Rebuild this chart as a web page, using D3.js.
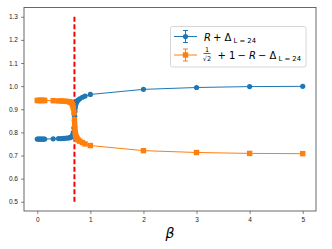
<!DOCTYPE html>
<html>
<head>
<meta charset="utf-8">
<script src="https://cdn.jsdelivr.net/npm/d3@7"></script>
<style>
  body { margin: 0; background: #fff; }
  svg { font-family: "DejaVu Sans", sans-serif; }
</style>
</head>
<body>
<svg id="chart" width="332" height="249"></svg>
<script>
// beta values (x)
const betas = [0, 0.02, 0.04, 0.06, 0.08, 0.1, 0.12, 0.14, 0.3, 0.4, 0.45, 0.5, 0.55, 0.6,
  0.62, 0.64, 0.66, 0.67, 0.68, 0.69, 0.7, 0.705, 0.71, 0.715, 0.72, 0.73, 0.74, 0.75,
  0.77, 0.8, 0.85, 0.9, 1, 2, 3, 4, 5];
// R + Delta
const blueVals = [0.771, 0.771, 0.771, 0.771, 0.771, 0.771, 0.771, 0.771, 0.772, 0.773, 0.773, 0.774, 0.775, 0.776,
  0.778, 0.780, 0.785, 0.790, 0.800, 0.820, 0.850, 0.870, 0.890, 0.905, 0.915, 0.925, 0.930, 0.935,
  0.940, 0.945, 0.952, 0.957, 0.964, 0.986, 0.994, 0.998, 0.999];
// 1/sqrt2 + 1 - R - Delta
const orangeVals = [0.938, 0.938, 0.938, 0.938, 0.938, 0.938, 0.938, 0.938, 0.937, 0.936, 0.936, 0.935, 0.934, 0.933,
  0.931, 0.928, 0.922, 0.915, 0.905, 0.885, 0.855, 0.835, 0.815, 0.800, 0.790, 0.782, 0.777, 0.772,
  0.767, 0.762, 0.756, 0.750, 0.743, 0.721, 0.713, 0.709, 0.708];
const xTicks = [0, 1, 2, 3, 4, 5];
const yTicks = [0.5, 0.6, 0.7, 0.8, 0.9, 1.0, 1.1, 1.2, 1.3];
const critBeta = 0.7;

const blue = "#1f77b4", orange = "#ff7f0e";
const svg = d3.select("#chart");
const mLeft = 24, mRight = 316, mTop = 7.5, mBottom = 211;

const x = d3.scaleLinear().domain([-0.25, 5.25]).range([mLeft, mRight]);
const y = d3.scaleLinear().domain([0.46, 1.34]).range([mBottom, mTop]);

// axes
const xAxis = svg.append("g").attr("transform", `translate(0,${mBottom})`)
  .call(d3.axisBottom(x).tickValues(xTicks).tickFormat(d3.format("d")).tickSize(3).tickPadding(3));
const yAxis = svg.append("g").attr("transform", `translate(${mLeft},0)`)
  .call(d3.axisLeft(y).tickValues(yTicks).tickFormat(d3.format(".1f")).tickSize(3).tickPadding(3));
[xAxis, yAxis].forEach(a => {
  a.select(".domain").remove();
  a.selectAll("text").attr("font-size", 6.5).attr("fill", "#222");
  a.selectAll("line").attr("stroke", "#333").attr("stroke-width", 0.6);
});

// frame
svg.append("rect").attr("x", mLeft).attr("y", mTop)
  .attr("width", mRight - mLeft).attr("height", mBottom - mTop)
  .attr("fill", "none").attr("stroke", "#444").attr("stroke-width", 0.8);

const line = d3.line().x(d => x(d[0])).y(d => y(d[1]));
const blueData = betas.map((b, i) => [b, blueVals[i]]);
const orangeData = betas.map((b, i) => [b, orangeVals[i]]);

// red dashed line
svg.append("line")
  .attr("x1", x(critBeta)).attr("x2", x(critBeta))
  .attr("y1", y(0.5)).attr("y2", y(1.3))
  .attr("stroke", "red").attr("stroke-width", 2).attr("stroke-dasharray", "5,2.5");

// blue series
svg.append("path").datum(blueData).attr("d", line)
  .attr("fill", "none").attr("stroke", blue).attr("stroke-width", 1);
svg.selectAll(".bdot").data(blueData).enter().append("circle")
  .attr("cx", d => x(d[0])).attr("cy", d => y(d[1])).attr("r", 2.6).attr("fill", blue);

// orange series
svg.append("path").datum(orangeData).attr("d", line)
  .attr("fill", "none").attr("stroke", orange).attr("stroke-width", 1);
svg.selectAll(".osq").data(orangeData).enter().append("rect")
  .attr("x", d => x(d[0]) - 2.7).attr("y", d => y(d[1]) - 2.7)
  .attr("width", 5.4).attr("height", 5.4).attr("fill", orange);

// legend
const lg = svg.append("g");
lg.append("rect").attr("x", 170.5).attr("y", 26.5).attr("width", 135.5).attr("height", 40.5).attr("rx", 2)
  .attr("fill", "#fff").attr("fill-opacity", 0.8).attr("stroke", "#ccc").attr("stroke-width", 0.8);

function handle(cy, color, square) {
  lg.append("line").attr("x1", 174).attr("x2", 197).attr("y1", cy).attr("y2", cy)
    .attr("stroke", color).attr("stroke-width", 1);
  lg.append("line").attr("x1", 185.5).attr("x2", 185.5).attr("y1", cy - 6).attr("y2", cy + 6)
    .attr("stroke", color).attr("stroke-width", 1);
  [cy - 6, cy + 6].forEach(c => lg.append("line").attr("x1", 183).attr("x2", 188)
    .attr("y1", c).attr("y2", c).attr("stroke", color).attr("stroke-width", 1));
  if (square) lg.append("rect").attr("x", 182.8).attr("y", cy - 2.7).attr("width", 5.4).attr("height", 5.4).attr("fill", color);
  else lg.append("circle").attr("cx", 185.5).attr("cy", cy).attr("r", 2.6).attr("fill", color);
}
handle(36.5, blue, false);
handle(55, orange, true);

function txt(xp, yp, s, size, italic) {
  lg.append("text").attr("x", xp).attr("y", yp).attr("font-size", size)
    .attr("font-style", italic ? "italic" : "normal").attr("fill", "#000").text(s);
}
// row 1: R + Δ_{L=24}
txt(204, 40.5, "R", 10, true);
txt(213, 40.5, "+", 10, false);
txt(224.5, 40.5, "Δ", 10, false);
txt(233.5, 43, "L = 24", 6.8, false);

// row 2: 1/√2 + 1 − R − Δ_{L=24}
lg.append("text").attr("x", 207).attr("y", 51.5).attr("font-size", 6.5).attr("text-anchor", "middle").text("1");
lg.append("line").attr("x1", 203.5).attr("x2", 210.5).attr("y1", 53.5).attr("y2", 53.5).attr("stroke", "#000").attr("stroke-width", 0.6);
lg.append("text").attr("x", 207).attr("y", 61).attr("font-size", 6.5).attr("text-anchor", "middle").text("√2");
txt(217.5, 58.5, "+", 10, false);
txt(229, 58.5, "1", 10, false);
txt(237.5, 58.5, "−", 10, false);
txt(249, 58.5, "R", 10, true);
txt(258, 58.5, "−", 10, false);
txt(269.5, 58.5, "Δ", 10, false);
txt(278.5, 61, "L = 24", 6.8, false);

// x label
svg.append("text").attr("x", 170).attr("y", 238).attr("text-anchor", "middle")
  .attr("font-size", 14).attr("font-style", "italic").text("β");
</script>
</body>
</html>
